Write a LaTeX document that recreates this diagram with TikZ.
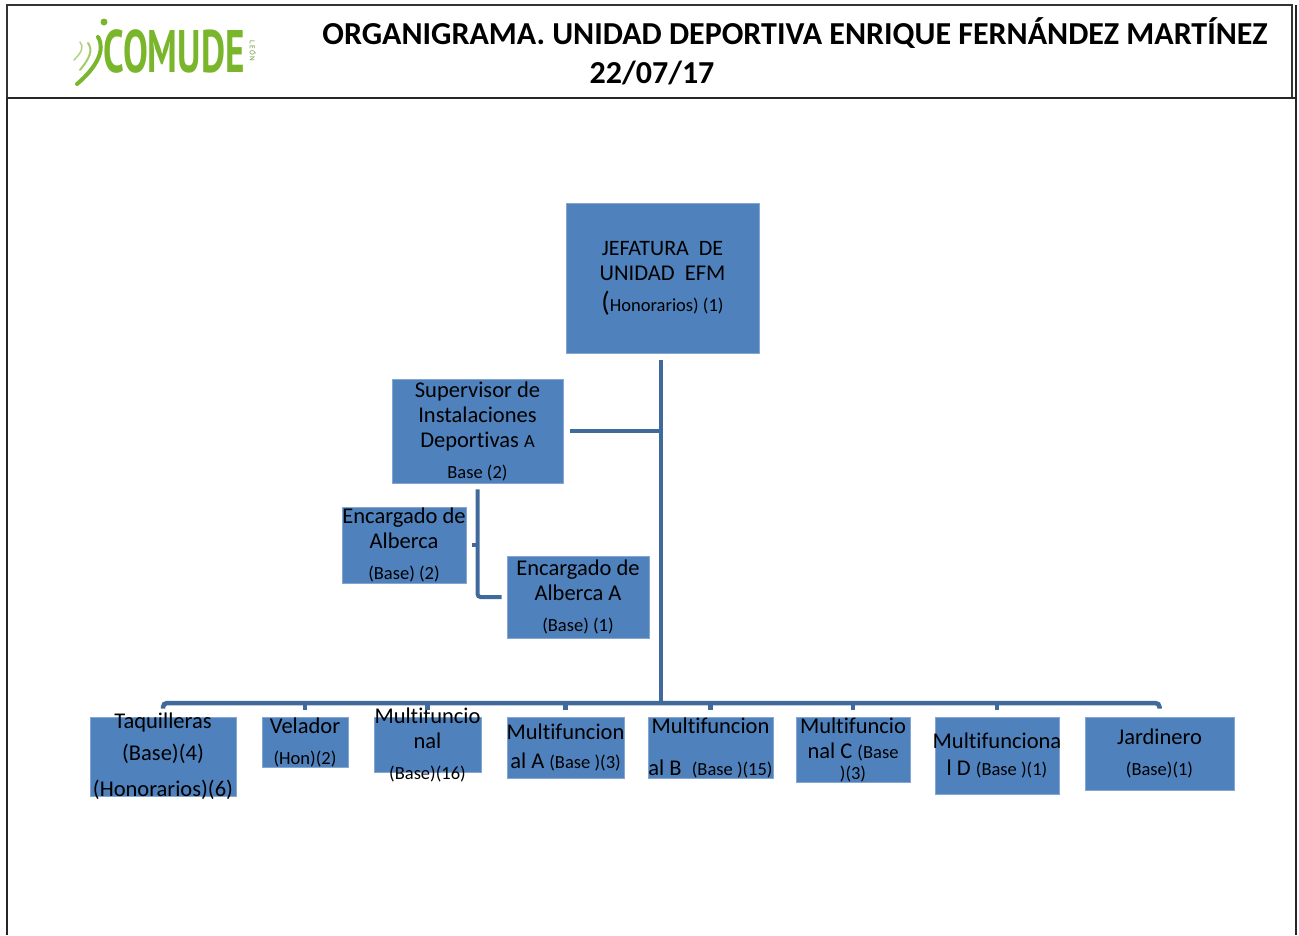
\documentclass[tikz,border=0pt]{standalone}
\usepackage{fontspec}
\usepackage{graphicx}
\setmainfont{Carlito}[Ligatures=NoCommon]
\newfontfamily\logofont{PT Sans}
\definecolor{boxblue}{RGB}{79,129,189}
\definecolor{linkblue}{RGB}{64,106,156}
\definecolor{logogreen}{RGB}{122,182,44}
\newcommand\sm[1]{{\fontsize{18.5}{19}\selectfont #1}}
\tikzset{
  orgbox/.style={fill=boxblue, draw=boxblue!70!white, line width=0.6pt, inner sep=0pt},
  orgtext/.style={inner sep=0pt, align=center, font=\fontsize{22.5}{25}\selectfont},
  conn/.style={draw=linkblue, line width=4.5pt},
  frameline/.style={draw=black!85, line width=2.6pt},
}
% name, x, y, width, height, text
\newcommand\orgnode[6]{%
  \node[orgbox, minimum width=#4pt, minimum height=#5pt] (#1) at (#2,#3) {};
  \node[orgtext] (#1-t) at (#1.center) {#6};}
\begin{document}
\begin{tikzpicture}[x=1pt,y=-1pt]
\useasboundingbox (0,0) rectangle (1299,935);
% frame
\draw[black!80, line width=1.4pt] (7,5) rectangle (1292,98);
\draw[frameline] (7,98) -- (7,935);
\draw[frameline] (1296,5) -- (1296,935);
\draw[frameline] (7,98) -- (1296,98);
% logo
\node[anchor=center, text=logogreen, inner sep=0pt] (logo) at (174,51)
  {\scalebox{0.62}[1]{\logofont\bfseries\fontsize{60}{62}\selectfont COMUDE}};
\node[rotate=-90, text=logogreen!80!black, inner sep=0pt, font=\logofont\fontsize{7}{8}\selectfont] (leon) at (253,51) {L\,E\,Ó\,N};
\fill[logogreen] (104,22) circle (3.5);
\draw[logogreen, line width=4pt, line cap=round] (77,84) .. controls (96,68) and (106,50) .. (98,37);
\draw[logogreen!70!white, line width=2pt, line cap=round] (80,70) .. controls (90,58) and (93,50) .. (88,43);
\draw[logogreen!60!white, line width=1.5pt, line cap=round] (74,60) .. controls (82,52) and (84,47) .. (80,42);
% title
\node[font=\bfseries\fontsize{32}{34}\selectfont, inner sep=0pt] (title) at (795,33)
  {ORGANIGRAMA. UNIDAD DEPORTIVA ENRIQUE FERNÁNDEZ MARTÍNEZ};
\node[font=\bfseries\fontsize{32}{34}\selectfont, inner sep=0pt] (date) at (652,73) {22/07/17};
% boxes
\orgnode{jef}{662.5}{278}{193}{150}
  {\fontsize{22}{25}\selectfont JEFATURA\ \ DE\\UNIDAD\ \ EFM\\[6pt]{\fontsize{28}{25}\selectfont(}\sm{Honorarios) (1)}}
\orgnode{sup}{477.5}{431}{171}{104}
  {Supervisor de\\Instalaciones\\Deportivas \sm{A}\\[6pt]\sm{Base (2)}}
\orgnode{enc}{404}{545}{124}{76}
  {Encargado de\\Alberca\\[6pt]\sm{(Base) (2)}}
\orgnode{ala}{578}{597}{142}{82}
  {Encargado de\\Alberca A\\[6pt]\sm{(Base) (1)}}
% bottom row
\orgnode{taq}{163}{756.5}{146}{79}
  {Taquilleras\\[7pt](Base)(4)\\[11pt](Honorarios)(6)}
\orgnode{vel}{305}{742}{86}{50}
  {Velador\\[6pt]\sm{(Hon)(2)}}
\orgnode{mul}{427.5}{744.5}{107}{55}
  {Multifuncio\\nal\\[6pt]\sm{(Base)(16)}}
\orgnode{mua}{565.5}{747.5}{117}{61}
  {Multifuncion\\[4pt]al A \sm{(Base )(3)}}
\orgnode{mub}{710.5}{747.5}{125}{61}
  {Multifuncion\\[17pt]al B\ \ \sm{(Base )(15)}}
\orgnode{muc}{853}{749.5}{114}{65}
  {Multifuncio\\nal C \sm{(Base}\\[-4pt]\sm{)(3)}}
\orgnode{mud}{997}{755.5}{124}{77}
  {Multifunciona\\[2pt]l D \sm{(Base )(1)}}
\orgnode{jar}{1159.5}{753.5}{149}{73}
  {Jardinero\\[6pt]\sm{(Base)(1)}}
% connectors
\coordinate (bus) at (661,703);
\draw[conn] ([yshift=-7pt]jef.south -| bus) -- (bus);
\draw[conn] (bus |- sup.east) -- ([xshift=7pt]sup.east);
\draw[conn, line width=4pt, rounded corners=3pt] ([yshift=-6pt]sup.south) |- ([xshift=-5pt]ala.west);
\draw[conn, line width=4pt] ([xshift=6pt]enc.east) -- (sup.south |- enc.east);
\draw[conn, rounded corners=4pt] ([yshift=8pt]taq.north) |- (bus) -| ([yshift=8pt]jar.north);
\foreach \b in {vel,mul,mua,mub,muc,mud}
  \draw[conn] ([yshift=7pt]\b.north) -- (\b.north |- bus);
\end{tikzpicture}
\end{document}
